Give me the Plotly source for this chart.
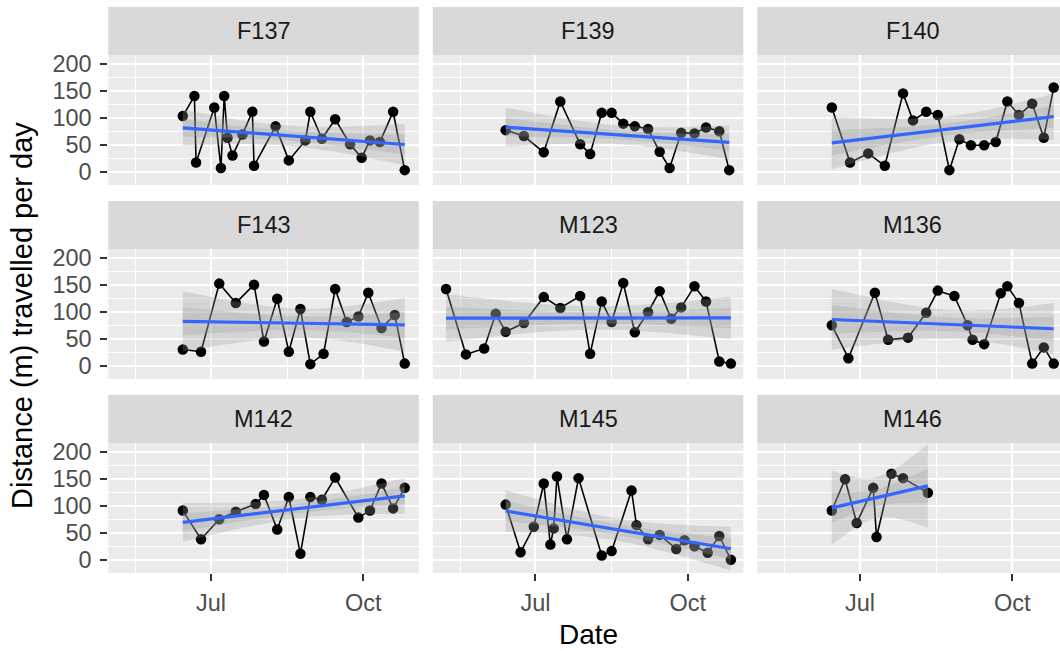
import numpy as np
import pandas as pd
import plotly.graph_objects as go

# ---- daily distance travelled (m), one pair of lists per animal ----
F137_dates = ["2019-06-14", "2019-06-21", "2019-06-22", "2019-07-03", "2019-07-07", "2019-07-09",
              "2019-07-11", "2019-07-14", "2019-07-20", "2019-07-26", "2019-07-27", "2019-08-09",
              "2019-08-17", "2019-08-27", "2019-08-30", "2019-09-06", "2019-09-14", "2019-09-23",
              "2019-09-30", "2019-10-05", "2019-10-11", "2019-10-19", "2019-10-26"]
F137_dist = [103, 140, 17, 119, 7, 140, 63, 30, 69, 111, 11, 84, 21, 58, 111, 61, 97, 51, 26, 58, 55, 111, 3]

F139_dates = ["2019-06-13", "2019-06-24", "2019-07-06", "2019-07-16", "2019-07-28", "2019-08-03",
              "2019-08-10", "2019-08-16", "2019-08-23", "2019-08-30", "2019-09-07", "2019-09-14",
              "2019-09-20", "2019-09-27", "2019-10-05", "2019-10-12", "2019-10-20", "2019-10-26"]
F139_dist = [77, 66, 36, 130, 51, 33, 109, 109, 89, 84, 79, 37, 7, 72, 71, 82, 75, 3]

F140_dates = ["2019-06-14", "2019-06-25", "2019-07-06", "2019-07-16", "2019-07-27", "2019-08-02",
              "2019-08-10", "2019-08-17", "2019-08-24", "2019-08-30", "2019-09-06", "2019-09-14",
              "2019-09-21", "2019-09-28", "2019-10-05", "2019-10-13", "2019-10-20", "2019-10-26"]
F140_dist = [119, 17, 34, 11, 145, 95, 111, 105, 3, 60, 49, 49, 55, 130, 105, 126, 63, 156]

F143_dates = ["2019-06-14", "2019-06-25", "2019-07-06", "2019-07-16", "2019-07-27", "2019-08-02",
              "2019-08-10", "2019-08-17", "2019-08-24", "2019-08-30", "2019-09-07", "2019-09-14",
              "2019-09-21", "2019-09-28", "2019-10-04", "2019-10-12", "2019-10-20", "2019-10-26"]
F143_dist = [30, 26, 152, 116, 150, 45, 124, 26, 105, 3, 22, 142, 81, 91, 135, 70, 94, 4]

M123_dates = ["2019-05-08", "2019-05-20", "2019-05-31", "2019-06-07", "2019-06-13", "2019-06-24",
              "2019-07-06", "2019-07-16", "2019-07-28", "2019-08-03", "2019-08-10", "2019-08-16",
              "2019-08-23", "2019-08-30", "2019-09-07", "2019-09-14", "2019-09-21", "2019-09-27",
              "2019-10-05", "2019-10-12", "2019-10-20", "2019-10-27"]
M123_dist = [142, 21, 32, 96, 63, 79, 127, 107, 129, 22, 119, 81, 153, 62, 99, 138, 87, 108, 147, 119, 8, 4]

M136_dates = ["2019-06-14", "2019-06-24", "2019-07-10", "2019-07-18", "2019-07-30", "2019-08-10",
              "2019-08-17", "2019-08-27", "2019-09-04", "2019-09-07", "2019-09-14", "2019-09-24",
              "2019-09-28", "2019-10-05", "2019-10-13", "2019-10-20", "2019-10-26"]
M136_dist = [75, 14, 135, 48, 52, 98, 139, 129, 75, 48, 40, 134, 147, 116, 4, 34, 4]

M142_dates = ["2019-06-14", "2019-06-25", "2019-07-06", "2019-07-16", "2019-07-28", "2019-08-02",
              "2019-08-10", "2019-08-17", "2019-08-24", "2019-08-30", "2019-09-06", "2019-09-14",
              "2019-09-28", "2019-10-05", "2019-10-12", "2019-10-19", "2019-10-26"]
M142_dist = [91, 38, 75, 89, 103, 120, 56, 116, 11, 116, 111, 152, 78, 91, 141, 95, 133]

M145_dates = ["2019-06-13", "2019-06-22", "2019-06-30", "2019-07-06", "2019-07-10", "2019-07-12",
              "2019-07-14", "2019-07-20", "2019-07-27", "2019-08-10", "2019-08-16", "2019-08-28",
              "2019-08-31", "2019-09-07", "2019-09-14", "2019-09-24", "2019-09-29", "2019-10-05",
              "2019-10-13", "2019-10-20", "2019-10-27"]
M145_dist = [102, 14, 61, 141, 28, 58, 154, 38, 151, 8, 16, 128, 64, 38, 46, 20, 36, 25, 13, 44, 0]

M146_dates = ["2019-06-14", "2019-06-22", "2019-06-29", "2019-07-09", "2019-07-11", "2019-07-20",
              "2019-07-27", "2019-08-11"]
M146_dist = [91, 149, 68, 133, 42, 159, 151, 124]

animals = ["F137", "F139", "F140", "F143", "M123", "M136", "M142", "M145", "M146"]
series = {
    "F137": (F137_dates, F137_dist), "F139": (F139_dates, F139_dist), "F140": (F140_dates, F140_dist),
    "F143": (F143_dates, F143_dist), "M123": (M123_dates, M123_dist), "M136": (M136_dates, M136_dist),
    "M142": (M142_dates, M142_dist), "M145": (M145_dates, M145_dist), "M146": (M146_dates, M146_dist),
}

x_major = ["2019-07-01", "2019-10-01"]
x_major_text = ["Jul", "Oct"]
x_minor = ["2019-05-16 12:00", "2019-08-16"]
y_major = [0, 50, 100, 150, 200]
y_minor = [25, 75, 125, 175]

# ---- page geometry (pixels) ----
W, H = 1060, 651
col_left = [108.3, 432.8, 757.3]
col_w = 310.5
strip_top = [7, 201, 395]
strip_h = 48
panel_h = 130

x_start = pd.Timestamp("2019-04-30")
x_end = pd.Timestamp("2019-11-03 12:00")
y_range = [-24.5, 216]

FONT = "Liberation Sans, Arial, sans-serif"
BLUE = "#3366FF"
RIBBON = "rgba(153,153,153,0.28)"


def t975(df):
    # Cornish-Fisher expansion of the Student t quantile
    z = 1.959964
    return (z + (z**3 + z) / (4 * df) + (5 * z**5 + 16 * z**3 + 3 * z) / (96 * df**2)
            + (3 * z**7 + 19 * z**5 + 17 * z**3 - 15 * z) / (384 * df**3))


def lm_band(dates, vals, npts=80):
    d = pd.to_datetime(dates)
    origin = pd.Timestamp("2019-07-01")
    t = ((d - origin) / pd.Timedelta(days=1)).to_numpy(dtype=float)
    y = np.asarray(vals, dtype=float)
    n = len(t)
    tm = t.mean()
    sxx = ((t - tm) ** 2).sum()
    b = ((t - tm) * (y - y.mean())).sum() / sxx
    a = y.mean() - b * tm
    s = np.sqrt(((y - (a + b * t)) ** 2).sum() / (n - 2))
    tg = np.linspace(t.min(), t.max(), npts)
    fit = a + b * tg
    se = s * np.sqrt(1.0 / n + (tg - tm) ** 2 / sxx)
    xg = origin + pd.to_timedelta(tg, unit="D")
    return xg, fit, se, t975(n - 2)


fig = go.Figure()
layout = dict(
    width=W, height=H, margin=dict(l=0, r=0, t=0, b=0),
    paper_bgcolor="white", plot_bgcolor="#EBEBEB",
    showlegend=False, font=dict(family=FONT),
)
shapes, annotations = [], []

for i, name in enumerate(animals):
    r, c = divmod(i, 3)
    k = i + 1
    xs = "x" if k == 1 else f"x{k}"
    ys = "y" if k == 1 else f"y{k}"

    x0 = col_left[c]
    x1 = min(x0 + col_w, W)
    frac = (x1 - x0) / col_w
    xr_end = x_start + (x_end - x_start) * frac
    top = strip_top[r] + strip_h
    bot = top + panel_h

    bottom_row = r == 2
    left_col = c == 0

    layout[f"xaxis{'' if k == 1 else k}"] = dict(
        domain=[x0 / W, x1 / W], anchor=ys, type="date",
        range=[str(x_start), str(xr_end)],
        tickmode="array", tickvals=x_major, ticktext=x_major_text,
        showgrid=True, gridcolor="white", gridwidth=2,
        minor=dict(tickmode="array", tickvals=x_minor, showgrid=True, gridcolor="white", gridwidth=1),
        zeroline=False, showline=False, automargin=False,
        ticks="outside" if bottom_row else "", ticklen=7, tickwidth=2, tickcolor="#333333",
        showticklabels=bottom_row, ticklabelstandoff=2,
        tickfont=dict(family=FONT, size=23.5, color="#4D4D4D"),
    )
    layout[f"yaxis{'' if k == 1 else k}"] = dict(
        domain=[1 - bot / H, 1 - top / H], anchor=xs,
        range=y_range, tickmode="array", tickvals=y_major,
        showgrid=True, gridcolor="white", gridwidth=2,
        minor=dict(tickmode="array", tickvals=y_minor, showgrid=True, gridcolor="white", gridwidth=1),
        zeroline=False, showline=False, automargin=False,
        ticks="outside" if left_col else "", ticklen=7, tickwidth=2, tickcolor="#333333",
        showticklabels=left_col, ticklabelstandoff=4,
        tickfont=dict(family=FONT, size=23.5, color="#4D4D4D"),
    )

    # facet strip
    shapes.append(dict(type="rect", xref="paper", yref="paper",
                       x0=x0 / W, x1=x1 / W, y0=1 - top / H, y1=1 - strip_top[r] / H,
                       fillcolor="#D9D9D9", line=dict(width=0), layer="below"))
    annotations.append(dict(text=name, xref="paper", yref="paper",
                            x=(x0 + col_w / 2) / W, y=1 - (strip_top[r] + strip_h / 2) / H,
                            xanchor="center", yanchor="middle", showarrow=False,
                            font=dict(family=FONT, size=23.5, color="#1A1A1A")))

    dates, vals = series[name]
    fig.add_trace(go.Scatter(x=dates, y=vals, mode="lines+markers", xaxis=xs, yaxis=ys,
                             line=dict(color="black", width=1.6),
                             marker=dict(color="black", size=10.5), hoverinfo="skip"))

    xg, fit, se, tq = lm_band(dates, vals)
    xg_s = [str(v) for v in xg]
    for mult in (tq, 1.0):
        upper = fit + mult * se
        lower = fit - mult * se
        fig.add_trace(go.Scatter(x=xg_s + xg_s[::-1], y=list(upper) + list(lower[::-1]),
                                 mode="lines", fill="toself", fillcolor=RIBBON,
                                 line=dict(width=0), xaxis=xs, yaxis=ys, hoverinfo="skip"))
    fig.add_trace(go.Scatter(x=xg_s, y=fit, mode="lines", xaxis=xs, yaxis=ys,
                             line=dict(color=BLUE, width=3.2), hoverinfo="skip"))

# axis titles
annotations.append(dict(text="Date", xref="paper", yref="paper",
                        x=(col_left[0] + col_left[2] + col_w) / 2 / W, y=0,
                        xanchor="center", yanchor="bottom", borderpad=0, showarrow=False,
                        font=dict(family=FONT, size=28, color="black")))
annotations.append(dict(text="Distance (m) travelled per day", xref="paper", yref="paper",
                        x=22 / W, y=1 - 316 / H, textangle=-90,
                        xanchor="center", yanchor="middle", showarrow=False,
                        font=dict(family=FONT, size=29, color="black")))

layout["shapes"] = shapes
layout["annotations"] = annotations
fig.update_layout(**layout)

fig.write_html("out.html", config={"displayModeBar": False})
